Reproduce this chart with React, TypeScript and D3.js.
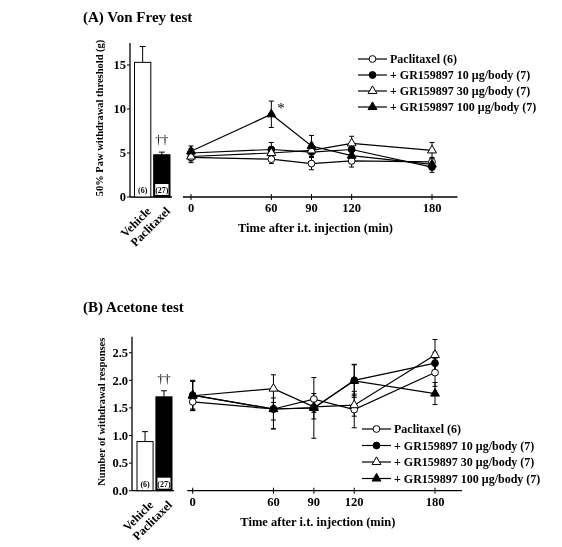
import React, { useEffect, useRef } from 'react';
import * as d3 from 'd3';

// time points after intrathecal injection (min)
const times = [0, 60, 90, 120, 180];
const barGroups = ['Vehicle', 'Paclitaxel'];
const barN = ['(6)', '(27)'];

const seriesNames = [
  'Paclitaxel (6)',
  '+ GR159897 10 \u03bcg/body (7)',
  '+ GR159897 30 \u03bcg/body (7)',
  '+ GR159897 100 \u03bcg/body (7)',
];
// marker style per series: [shape, filled]
const seriesMarks: [string, boolean][] = [
  ['circle', false],
  ['circle', true],
  ['triangle', false],
  ['triangle', true],
];

// (A) Von Frey test, 50% paw withdrawal threshold (g)
const vfBarMean = [15.3, 4.8];
const vfBarSem = [1.8, 0.3];
const vfMean = [
  [4.5, 4.3, 3.8, 4.1, 4.0],
  [5.0, 5.4, 5.1, 5.4, 3.4],
  [4.6, 5.0, 5.3, 6.1, 5.3],
  [5.2, 9.4, 5.8, 4.7, 3.7],
];
const vfSem = [
  [0.6, 0.5, 0.7, 0.7, 0.5],
  [0.5, 0.8, 0.6, 0.6, 0.6],
  [0.5, 0.6, 0.7, 0.8, 0.9],
  [0.6, 1.5, 1.2, 0.8, 0.5],
];
const vfTicks = [0, 5, 10, 15];

// (B) Acetone test, number of withdrawal responses
const acBarMean = [0.89, 1.7];
const acBarSem = [0.18, 0.11];
const acMean = [
  [1.61, 1.48, 1.66, 1.47, 2.14],
  [1.73, 1.48, 1.5, 2.0, 2.31],
  [1.72, 1.85, 1.52, 1.55, 2.46],
  [1.73, 1.48, 1.5, 1.99, 1.76],
];
const acSem = [
  [0.15, 0.2, 0.1, 0.33, 0.25],
  [0.27, 0.36, 0.2, 0.28, 0.2],
  [0.27, 0.25, 0.1, 0.2, 0.28],
  [0.25, 0.36, 0.55, 0.3, 0.2],
];
const acTicks = [0, 0.5, 1.0, 1.5, 2.0, 2.5];

const FONT = 'Liberation Serif, DejaVu Serif, serif';

type Panel = {
  title: string;
  titleY: number;
  yLabel: string;
  y: d3.ScaleLinear<number, number>;
  yTicks: number[];
  tickFmt: (v: number) => string;
  yAxisX: number;
  band: d3.ScaleBand<string>;
  barMean: number[];
  barSem: number[];
  x: d3.ScaleLinear<number, number>;
  xLine: [number, number];
  mean: number[][];
  sem: number[][];
  legendX: number;
  legendY: number;
  legendGap: number;
  star?: boolean;
};

const App = () => {
  const ref = useRef<SVGSVGElement>(null);

  useEffect(() => {
    const svg = d3.select(ref.current);
    svg.selectAll('*').remove();

    const panels: Panel[] = [
      {
        title: '(A) Von Frey test',
        titleY: 22,
        yLabel: '50% Paw withdrawal threshold (g)',
        y: d3.scaleLinear().domain([0, 17.5]).range([197, 43]),
        yTicks: vfTicks,
        tickFmt: d3.format('d'),
        yAxisX: 130,
        band: d3.scaleBand().domain(barGroups).range([134.5, 170]).paddingInner(0.15),
        barMean: vfBarMean,
        barSem: vfBarSem,
        x: d3.scaleLinear().domain([0, 180]).range([191, 432]),
        xLine: [-6, 199],
        mean: vfMean,
        sem: vfSem,
        legendX: 358,
        legendY: 59,
        legendGap: 16,
        star: true,
      },
      {
        title: '(B) Acetone test',
        titleY: 312,
        yLabel: 'Number of withdrawal responses',
        y: d3.scaleLinear().domain([0, 2.79]).range([490.7, 336.7]),
        yTicks: acTicks,
        tickFmt: d3.format('.1f'),
        yAxisX: 132,
        band: d3.scaleBand().domain(barGroups).range([137, 172]).paddingInner(0.15),
        barMean: acBarMean,
        barSem: acBarSem,
        x: d3.scaleLinear().domain([0, 180]).range([192.7, 435]),
        xLine: [-4, 200],
        mean: acMean,
        sem: acSem,
        legendX: 362,
        legendY: 429,
        legendGap: 16.5,
      },
    ];

    panels.forEach((p) => {
      const g = svg.append('g').attr('font-family', FONT).attr('fill', 'black');
      const y0 = p.y(0);

      g.append('text')
        .attr('x', 83)
        .attr('y', p.titleY)
        .attr('font-size', 15)
        .attr('font-weight', 'bold')
        .text(p.title);

      // y label
      const yMid = (p.y.range()[0] + p.y.range()[1]) / 2 - 2;
      g.append('text')
        .attr('transform', `translate(${p.yAxisX - 27},${yMid}) rotate(-90)`)
        .attr('text-anchor', 'middle')
        .attr('font-size', 10.5)
        .attr('font-weight', 'bold')
        .text(p.yLabel);

      // bar axis
      g.append('line')
        .attr('x1', p.yAxisX).attr('x2', p.yAxisX)
        .attr('y1', y0).attr('y2', p.y.range()[1])
        .attr('stroke', 'black').attr('stroke-width', 1.3);
      g.append('line')
        .attr('x1', p.yAxisX).attr('x2', p.band.range()[1] + 2)
        .attr('y1', y0).attr('y2', y0)
        .attr('stroke', 'black').attr('stroke-width', 1.3);
      p.yTicks.forEach((t) => {
        g.append('line')
          .attr('x1', p.yAxisX - 3).attr('x2', p.yAxisX)
          .attr('y1', p.y(t)).attr('y2', p.y(t))
          .attr('stroke', 'black');
        g.append('text')
          .attr('x', p.yAxisX - 4)
          .attr('y', p.y(t))
          .attr('dy', '0.35em')
          .attr('text-anchor', 'end')
          .attr('font-size', 12.5)
          .attr('font-weight', 'bold')
          .text(p.tickFmt(t));
      });

      // bars with upward SEM
      barGroups.forEach((name, i) => {
        const bx = p.band(name)!;
        const bw = p.band.bandwidth();
        const cx = bx + bw / 2;
        const top = p.y(p.barMean[i]);
        const errTop = p.y(p.barMean[i] + p.barSem[i]);
        g.append('line')
          .attr('x1', cx).attr('x2', cx).attr('y1', top).attr('y2', errTop)
          .attr('stroke', 'black');
        g.append('line')
          .attr('x1', cx - 3).attr('x2', cx + 3).attr('y1', errTop).attr('y2', errTop)
          .attr('stroke', 'black');
        g.append('rect')
          .attr('x', bx).attr('y', top)
          .attr('width', bw).attr('height', y0 - top)
          .attr('fill', i === 0 ? 'white' : 'black')
          .attr('stroke', 'black').attr('stroke-width', 1);
        if (i === 1) {
          g.append('rect')
            .attr('x', bx + 1.5).attr('y', y0 - 13)
            .attr('width', bw - 3).attr('height', 11)
            .attr('fill', 'white');
        }
        g.append('text')
          .attr('x', cx).attr('y', y0 - 4)
          .attr('text-anchor', 'middle')
          .attr('font-size', 8)
          .attr('font-weight', 'bold')
          .text(barN[i]);
        g.append('text')
          .attr('transform', `translate(${cx + 3},${y0 + 9}) rotate(-45)`)
          .attr('text-anchor', 'end')
          .attr('dy', '0.7em')
          .attr('font-size', 12)
          .attr('font-weight', 'bold')
          .text(name);
      });
      const pb = p.band('Paclitaxel')! + p.band.bandwidth() / 2;
      g.append('text')
        .attr('x', pb).attr('y', p.y(p.barMean[1] + p.barSem[1]) - 8)
        .attr('text-anchor', 'middle')
        .attr('font-size', 13)
        .text('\u2020\u2020');

      // time course axis
      g.append('line')
        .attr('x1', p.x(p.xLine[0])).attr('x2', p.x(p.xLine[1]))
        .attr('y1', y0).attr('y2', y0)
        .attr('stroke', 'black').attr('stroke-width', 1.3);
      times.forEach((t) => {
        g.append('line')
          .attr('x1', p.x(t)).attr('x2', p.x(t))
          .attr('y1', y0 - 3).attr('y2', y0 + 3)
          .attr('stroke', 'black');
        g.append('text')
          .attr('x', p.x(t)).attr('y', y0 + 15)
          .attr('text-anchor', 'middle')
          .attr('font-size', 12.5)
          .attr('font-weight', 'bold')
          .text(t);
      });
      g.append('text')
        .attr('x', (p.x(0) + p.x(180)) / 2 + 4)
        .attr('y', y0 + 35)
        .attr('text-anchor', 'middle')
        .attr('font-size', 12.5)
        .attr('font-weight', 'bold')
        .text('Time after i.t. injection (min)');

      const line = d3.line<number>()
        .x((_, i) => p.x(times[i]))
        .y((d) => p.y(d));

      const marker = (sel: d3.Selection<SVGGElement, unknown, null, undefined>, k: number) => {
        const [shape, filled] = seriesMarks[k];
        if (shape === 'circle') {
          sel.append('circle').attr('r', 3.4);
        } else {
          sel.append('path').attr('d', d3.symbol().type(d3.symbolTriangle).size(34)()!);
        }
        sel.selectAll('circle,path')
          .attr('fill', filled ? 'black' : 'white')
          .attr('stroke', 'black')
          .attr('stroke-width', 1);
      };

      p.mean.forEach((vals, k) => {
        const sg = g.append('g');
        vals.forEach((v, i) => {
          const cx = p.x(times[i]);
          const hi = p.y(v + p.sem[k][i]);
          const lo = p.y(v - p.sem[k][i]);
          sg.append('line').attr('x1', cx).attr('x2', cx).attr('y1', hi).attr('y2', lo)
            .attr('stroke', 'black').attr('stroke-width', 1);
          [hi, lo].forEach((yy) =>
            sg.append('line').attr('x1', cx - 2.5).attr('x2', cx + 2.5).attr('y1', yy).attr('y2', yy)
              .attr('stroke', 'black').attr('stroke-width', 1));
        });
        sg.append('path')
          .attr('d', line(vals)!)
          .attr('fill', 'none')
          .attr('stroke', 'black')
          .attr('stroke-width', 1.2);
      });
      p.mean.forEach((vals, k) => {
        vals.forEach((v, i) => {
          const mg = g.append('g').attr('transform', `translate(${p.x(times[i])},${p.y(v)})`);
          marker(mg, k);
        });
      });

      if (p.star) {
        g.append('text')
          .attr('x', p.x(60) + 6)
          .attr('y', p.y(p.mean[3][1] + p.sem[3][1]) + 12)
          .attr('font-size', 15)
          .text('*');
      }

      // legend
      seriesNames.forEach((name, k) => {
        const ly = p.legendY + k * p.legendGap;
        g.append('line')
          .attr('x1', p.legendX).attr('x2', p.legendX + 29)
          .attr('y1', ly).attr('y2', ly)
          .attr('stroke', 'black').attr('stroke-width', 1.2);
        const mg = g.append('g').attr('transform', `translate(${p.legendX + 14.5},${ly})`);
        marker(mg, k);
        g.append('text')
          .attr('x', p.legendX + 32)
          .attr('y', ly)
          .attr('dy', '0.35em')
          .attr('font-size', 12)
          .attr('font-weight', 'bold')
          .text(name);
      });
    });
  }, []);

  return (
    <svg
      ref={ref}
      width={562}
      height={547}
      style={{ position: 'absolute', left: 0, top: 0, background: 'white', willChange: 'transform' }}
    />
  );
};

export default App;
